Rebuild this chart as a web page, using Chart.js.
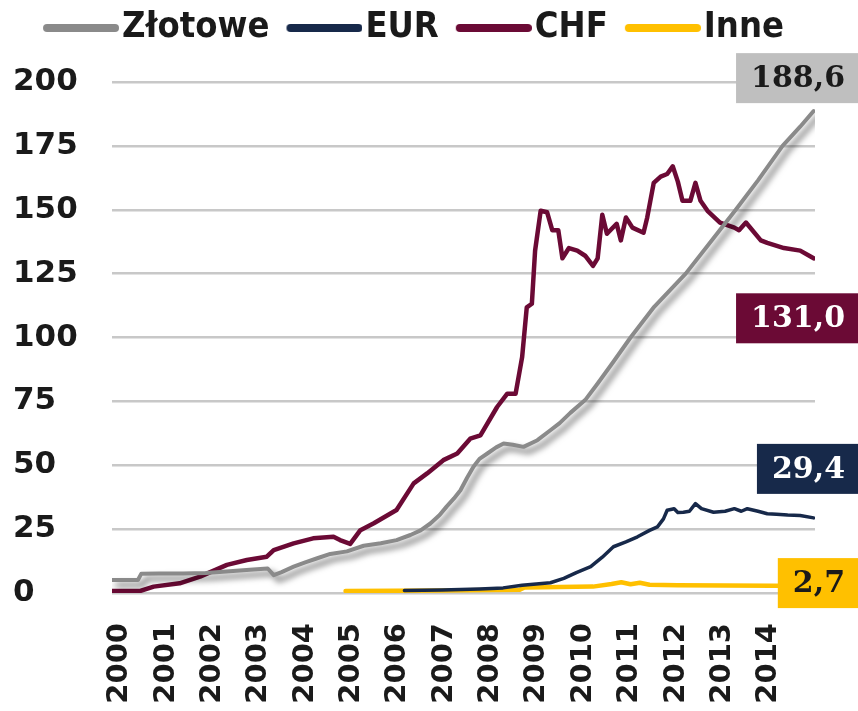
<!DOCTYPE html>
<html>
<head>
<meta charset="utf-8">
<title>Kredyty mieszkaniowe wg walut</title>
<script src="https://cdn.jsdelivr.net/npm/chart.js@4.4.1/dist/chart.umd.min.js"></script>
<style>
	html, body { margin: 0; padding: 0; background: #fff; }
	#wrap { width: 858px; height: 711px; }
</style>
</head>
<body>
<div id="wrap"><canvas id="loansChart" width="858" height="711"></canvas></div>
<script>
//series names, in legend order
var seriesNames = ["Złotowe", "EUR", "CHF", "Inne"];
var yearTicks = [2000, 2001, 2002, 2003, 2004, 2005, 2006, 2007, 2008, 2009, 2010, 2011, 2012, 2013, 2014];
var valueTicks = [0, 25, 50, 75, 100, 125, 150, 175, 200];

//values (x = decimal year, y = value)
var zlotoweX = [1999.83, 2000.39, 2000.46, 2000.85, 2001.36, 2001.86, 2002.37, 2002.88, 2003.19, 2003.32,
	2003.49, 2003.75, 2004.0, 2004.26, 2004.54, 2004.9, 2005.26, 2005.63, 2005.97, 2006.27,
	2006.49, 2006.7, 2006.9, 2007.05, 2007.21, 2007.35, 2007.49, 2007.63, 2007.76, 2007.93,
	2008.12, 2008.28, 2008.48, 2008.71, 2009.01, 2009.29, 2009.49, 2009.72, 2010.04, 2010.31,
	2010.65, 2011.02, 2011.53, 2012.21, 2012.75, 2013.29, 2013.77, 2014.3, 2014.68, 2014.97];
var zlotoweY = [5.1, 5.1, 7.5, 7.6, 7.6, 7.8, 8.5, 9.2, 9.6, 7.0,
	8.2, 10.3, 12, 13.6, 15.3, 16.3, 18.5, 19.5, 20.7, 22.7,
	24.5, 27.2, 30.5, 33.8, 37, 40.2, 45, 49.4, 52.5, 54.6,
	57, 58.5, 58, 57.2, 59.8, 63.7, 66.5, 70.5, 75.5, 82,
	90.5, 100, 112, 125, 137.5, 150, 161.5, 175, 182.5, 188.6];

var eurX = [2006.14, 2006.95, 2007.76, 2008.27, 2008.68, 2009.29, 2009.58, 2009.85, 2010.16, 2010.41,
	2010.65, 2010.92, 2011.17, 2011.43, 2011.6, 2011.73, 2011.81, 2011.96, 2012.04, 2012.16,
	2012.29, 2012.42, 2012.55, 2012.81, 2013.06, 2013.26, 2013.41, 2013.54, 2013.77, 2013.97,
	2014.17, 2014.41, 2014.68, 2014.97];
var eurY = [1, 1.2, 1.6, 2, 3, 4, 5.7, 8, 10.3, 14,
	18.1, 20, 22, 24.5, 25.9, 29, 32.4, 33, 31.5, 31.6,
	32, 35, 33, 31.6, 32, 33, 32, 33, 32, 31,
	30.8, 30.5, 30.3, 29.4];

var chfX = [1999.83, 2000.44, 2000.73, 2001.29, 2001.73, 2002.31, 2002.74, 2003.17, 2003.32, 2003.75,
	2004.17, 2004.61, 2004.75, 2004.97, 2005.19, 2005.48, 2005.97, 2006.34, 2006.63, 2006.98,
	2007.28, 2007.56, 2007.78, 2008.14, 2008.36, 2008.54, 2008.68, 2008.78, 2008.89, 2008.96,
	2009.08, 2009.22, 2009.33, 2009.46, 2009.55, 2009.69, 2009.87, 2010.04, 2010.21, 2010.31,
	2010.41, 2010.51, 2010.72, 2010.81, 2010.92, 2011.06, 2011.3, 2011.38, 2011.52, 2011.67,
	2011.81, 2011.93, 2012.04, 2012.14, 2012.31, 2012.42, 2012.53, 2012.68, 2012.95, 2013.26,
	2013.36, 2013.51, 2013.83, 2013.97, 2014.33, 2014.68, 2014.97];
var chfY = [0.8, 0.8, 2.5, 3.8, 6.4, 11.0, 12.9, 14.2, 16.8, 19.4,
	21.4, 22.0, 20.7, 19.2, 24.6, 27.3, 32.5, 42.9, 46.8, 52.0,
	54.6, 60.4, 61.7, 72.8, 78.0, 78.0, 92.3, 111.8, 113.2, 134,
	149.6, 149, 142, 142, 131, 135, 134, 132, 128, 131,
	148, 140.6, 144.5, 138, 147, 143, 141, 147, 160.5, 163,
	164, 167, 161, 153.5, 153.5, 160.5, 153.5, 149.6, 145, 143,
	142, 145, 138, 137, 135, 134, 131];

var inneX = [2004.87, 2005.93, 2006.95, 2007.97, 2008.63, 2008.73, 2009.49, 2010.21, 2010.61, 2010.82,
	2011.02, 2011.22, 2011.43, 2012.04, 2013.06, 2014.07, 2014.97];
var inneY = [0.8, 0.9, 1.0, 1.2, 1.3, 2.2, 2.3, 2.5, 3.5, 4.2,
	3.4, 4.0, 3.2, 3.0, 2.9, 2.8, 2.7];

//last values shown in the boxes on the right
var endValues = [188.6, 29.4, 131.0, 2.7];

var lineColors = ["#8a8a8a", "#17294a", "#6b0a35", "#ffc000"];
var lineWidths = [4, 3.5, 4.5, 4.5];
var boxColors = ["#bfbfbf", "#17294a", "#6b0a35", "#ffc000"];
var boxTextColors = ["#1a1a1a", "#ffffff", "#ffffff", "#1a1a1a"];
var boxShift = [-33, -49, 60, -3];

function toPoints(xs, ys) {
	return xs.map(function (x, i) { return {x: x, y: ys[i]}; });
}

//legend line marker, left part transparent so the line hugs the text
function makeMarker(color) {
	var c = document.createElement("canvas");
	c.width = 90;
	c.height = 10;
	var g = c.getContext("2d");
	g.strokeStyle = color;
	g.lineWidth = 8;
	g.lineCap = "round";
	g.beginPath();
	g.moveTo(18, 5);
	g.lineTo(86, 5);
	g.stroke();
	return c;
}
var markers = lineColors.map(makeMarker);

//soft drop shadow under the zloty line
var shadowPlugin = {
	id: "lineShadow",
	beforeDatasetDraw: function (chart, args) {
		if (args.index !== 0) return;
		var ctx = chart.ctx;
		ctx.save();
		ctx.shadowColor = "rgba(0,0,0,0.55)";
		ctx.shadowBlur = 6;
		ctx.shadowOffsetX = 5;
		ctx.shadowOffsetY = 5;
	},
	afterDatasetDraw: function (chart, args) {
		if (args.index !== 0) return;
		chart.ctx.restore();
	}
};

//extra room under the legend
var legendGap = {
	id: "legendGap",
	beforeInit: function (chart) {
		if (!chart.legend) return;
		var fit = chart.legend.fit;
		chart.legend.fit = function () {
			fit.call(this);
			this.height += 26;
		};
	}
};

//value boxes at the right edge
var endLabels = {
	id: "endLabels",
	afterDraw: function (chart) {
		var ctx = chart.ctx;
		var yScale = chart.scales.y;
		var textRight = chart.width - 13;
		ctx.save();
		ctx.font = "bold 30px 'DejaVu Serif'";
		ctx.textBaseline = "middle";
		ctx.textAlign = "right";
		for (var i = 0; i < endValues.length; i++) {
			var txt = endValues[i].toFixed(1).replace(".", ",");
			var cy = yScale.getPixelForValue(endValues[i]) + boxShift[i];
			var w = ctx.measureText(txt).width;
			var left = textRight - w - 15;
			ctx.fillStyle = boxColors[i];
			ctx.fillRect(left, cy - 25, chart.width - left, 50);
			ctx.fillStyle = boxTextColors[i];
			ctx.fillText(txt, textRight, cy + 1);
		}
		ctx.restore();
	}
};

var seriesX = [zlotoweX, eurX, chfX, inneX];
var seriesY = [zlotoweY, eurY, chfY, inneY];

var datasets = seriesNames.map(function (name, i) {
	return {
		label: name,
		data: toPoints(seriesX[i], seriesY[i]),
		borderColor: lineColors[i],
		backgroundColor: lineColors[i],
		borderWidth: lineWidths[i],
		borderJoinStyle: "round",
		borderCapStyle: "round",
		pointRadius: 0,
		tension: 0,
		fill: false
	};
});

var tickColor = "#1a1a1a";

new Chart(document.getElementById("loansChart"), {
	type: "line",
	data: {datasets: datasets},
	options: {
		responsive: false,
		animation: false,
		layout: {padding: {top: -8, right: 43, left: 13, bottom: 0}},
		plugins: {
			tooltip: {enabled: false},
			legend: {
				position: "top",
				align: "center",
				labels: {
					usePointStyle: true,
					pointStyleWidth: 60,
					boxHeight: 10,
					padding: 18,
					color: tickColor,
					font: {family: "'DejaVu Sans Condensed', 'DejaVu Sans', sans-serif", size: 36, weight: "bold"},
					generateLabels: function (chart) {
						var items = Chart.defaults.plugins.legend.labels.generateLabels(chart);
						items.forEach(function (item, i) {
							item.pointStyle = markers[i];
							item.rotation = 0;
						});
						return items;
					}
				}
			}
		},
		scales: {
			x: {
				type: "linear",
				min: 1999.83,
				max: 2015.0,
				grid: {display: false},
				border: {display: false},
				afterBuildTicks: function (scale) {
					scale.ticks = yearTicks.map(function (v) { return {value: v}; });
				},
				afterFit: function (scale) {
					scale.height = 118;
				},
				ticks: {
					autoSkip: false,
					minRotation: 90,
					maxRotation: 90,
					padding: 22,
					color: tickColor,
					font: {family: "'DejaVu Sans', sans-serif", size: 29, weight: "bold"},
					callback: function (v) { return String(v); }
				}
			},
			y: {
				min: 0,
				max: 200,
				afterBuildTicks: function (scale) {
					scale.ticks = valueTicks.map(function (v) { return {value: v}; });
				},
				afterFit: function (scale) {
					scale.width = 99;
				},
				grid: {color: "#c8c8c8", lineWidth: 2.5, drawTicks: false},
				border: {display: false},
				ticks: {
					crossAlign: "far",
					color: tickColor,
					font: {family: "'DejaVu Sans', sans-serif", size: 31, weight: "bold"},
					callback: function (v) { return String(v); }
				}
			}
		}
	},
	plugins: [shadowPlugin, legendGap, endLabels]
});
</script>
</body>
</html>
